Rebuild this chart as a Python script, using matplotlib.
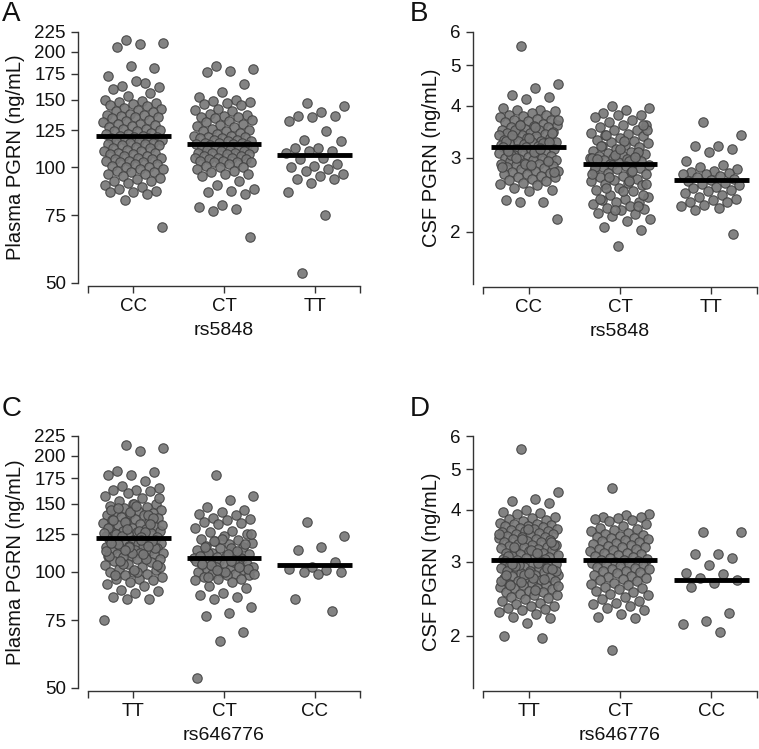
import numpy as np
import matplotlib
matplotlib.use('Agg')
import matplotlib.pyplot as plt
from matplotlib.ticker import FixedLocator, FixedFormatter, NullLocator

plt.rcParams['font.family'] = ['Liberation Sans', 'DejaVu Sans']

# ---------------- data ----------------
cats_rs5848 = ['CC', 'CT', 'TT']
cats_rs646776 = ['TT', 'CT', 'CC']

plasma_ticks = [50, 75, 100, 125, 150, 175, 200, 225]
csf_ticks = [2, 3, 4, 5, 6]

# Panel A: plasma PGRN by rs5848
A_CC = [214, 211, 209, 206, 181, 183, 173, 166, 163, 162, 168, 160, 156, 153, 150,
        149, 148, 147, 146, 145, 144, 143, 142, 141, 140, 139, 138, 137, 137, 136,
        135, 135, 134, 133, 132, 131, 130, 130, 129, 128, 127, 126, 126, 125, 124,
        124, 123, 122, 122, 121, 121, 120, 120, 119, 119, 118, 118, 117, 117, 116,
        116, 115, 115, 114, 114, 113, 112, 112, 111, 110, 110, 109, 109, 108, 108,
        107, 107, 106, 106, 105, 105, 104, 104, 103, 103, 102, 102, 101, 100, 100,
        99, 99, 98, 97, 97, 96, 96, 95, 94, 93, 92, 92, 91, 90, 89, 88, 87, 86, 86,
        85, 82, 70]
A_CT = [183, 180, 178, 177, 165, 157, 152, 150, 149, 148, 147, 146, 145, 142, 141,
        140, 138, 137, 136, 135, 135, 134, 133, 132, 131, 130, 129, 128, 127, 126,
        125, 124, 124, 123, 122, 121, 121, 120, 120, 119, 119, 118, 118, 117, 117,
        116, 116, 116, 115, 115, 114, 114, 113, 113, 112, 112, 112, 111, 111, 110,
        110, 109, 109, 109, 108, 108, 107, 107, 106, 106, 106, 105, 105, 104, 104,
        103, 103, 103, 102, 101, 100, 100, 99, 98, 97, 96, 96, 95, 92, 90, 88, 87,
        86, 85, 80, 79, 78, 77, 66]
A_TT = [147, 144, 139, 136, 136, 135, 132, 124, 118, 117, 112, 112, 110, 110, 109,
        106, 105, 102, 101, 100, 99, 98, 96, 95, 93, 93, 91, 86, 75, 53]
A_lines = [120.8, 114.7, 107.4]

# Panel B: CSF PGRN by rs5848
B_CC = [5.55, 4.5, 4.4, 4.25, 4.2, 4.15, 3.95, 3.9, 3.9, 3.88, 3.85, 3.8, 3.8, 3.78,
        3.75, 3.72, 3.7, 3.7, 3.68, 3.65, 3.62, 3.6, 3.6, 3.58, 3.55, 3.55, 3.52,
        3.5, 3.5, 3.48, 3.46, 3.45, 3.44, 3.42, 3.4, 3.4, 3.38, 3.36, 3.35, 3.34,
        3.32, 3.3, 3.3, 3.28, 3.27, 3.26, 3.25, 3.24, 3.22, 3.21,
        3.5, 3.45, 3.35, 3.3, 3.25, 3.6, 3.7, 3.55, 3.4, 3.28,
        3.19, 3.18, 3.17, 3.16, 3.15, 3.14, 3.12, 3.1, 3.1, 3.08, 3.06, 3.05, 3.04,
        3.02, 3.0, 3.0, 2.98, 2.97, 2.96, 2.95, 2.94, 2.92, 2.9, 2.9, 2.88, 2.87,
        2.86, 2.85, 2.84, 2.82, 2.8, 2.8, 2.78, 2.76, 2.75, 2.74, 2.72, 2.7, 2.7,
        2.68, 2.66, 2.65, 2.62, 2.6, 2.58, 2.55, 2.52, 2.5, 2.38, 2.36, 2.35, 2.15,
        3.1, 3.05, 2.95, 2.9, 2.85, 3.15, 3.0, 2.78, 2.88, 3.12]
B_CT = [4.0, 3.95, 3.9, 3.85, 3.8, 3.8, 3.75, 3.7, 3.65, 3.6, 3.6, 3.55, 3.5, 3.5,
        3.45, 3.42, 3.4, 3.38, 3.35, 3.32, 3.3, 3.28, 3.25, 3.22, 3.2, 3.18, 3.15,
        3.12, 3.1, 3.08, 3.06, 3.05, 3.03, 3.02, 3.0, 3.0, 2.98, 2.96, 2.95, 2.94,
        2.93, 2.92, 2.91,
        3.5, 3.3, 3.2, 3.1, 3.05, 3.0, 2.95, 3.4, 3.6, 3.15, 2.98, 3.02,
        2.89, 2.88, 2.87, 2.85, 2.84, 2.82, 2.8, 2.78, 2.76, 2.75, 2.72, 2.7, 2.68,
        2.66, 2.65, 2.62, 2.6, 2.58, 2.55, 2.52, 2.5, 2.45, 2.42, 2.4, 2.38, 2.36,
        2.35, 2.33, 2.3, 2.28, 2.26, 2.25, 2.22, 2.2, 2.18, 2.15, 2.12, 2.05, 2.02,
        1.85,
        2.85, 2.8, 2.7, 2.6, 2.5, 2.4, 2.3, 2.25, 2.75, 2.65, 2.55, 2.45]
B_TT = [3.65, 3.4, 3.2, 3.2, 3.15, 3.1, 2.95, 2.88, 2.85, 2.82, 2.8, 2.78, 2.76,
        2.75, 2.74, 2.72, 2.7, 2.68, 2.66, 2.64, 2.62, 2.6, 2.58, 2.56, 2.55, 2.52,
        2.5, 2.48, 2.45, 2.42, 2.4, 2.38, 2.36, 2.35, 2.32, 2.3, 2.28, 2.25, 1.98]
B_lines = [3.19, 2.90, 2.66]

# Panel C: plasma PGRN by rs646776
C_TT = [213, 210, 206, 183, 182, 178, 178, 172, 167, 165, 163, 163, 162, 160, 157,
        155, 153, 150, 150, 148, 147, 146, 145, 144, 143, 142, 141, 140, 140, 139,
        138, 137, 136, 135, 135, 134, 133, 132, 131, 130, 130, 129, 128, 128, 127,
        126, 126, 125, 124, 124, 123, 123,
        150, 145, 140, 135, 132, 128, 125, 138, 143, 130, 127, 124, 155, 148, 136,
        133, 129, 126, 123, 146,
        121, 121, 120, 120, 119, 119, 118, 118, 117, 117, 116, 116, 115, 115, 114,
        114, 113, 113, 112, 112, 111, 111, 110, 110, 109, 109, 108, 108, 107, 106,
        105, 104, 103, 102, 101, 100, 100, 99, 98, 97, 96, 96, 95, 94, 93, 92, 90,
        89, 88, 86, 85, 85, 75,
        121, 118, 115, 112, 110, 108, 105, 103, 100, 98, 120, 116, 113, 111, 107,
        104, 101, 119, 117, 114]
C_CT = [178, 157, 154, 147, 145, 143, 141, 140, 138, 137, 136, 135, 134, 133, 130,
        128, 127, 125, 124, 122, 121, 120, 119, 118, 117, 116, 115, 114, 113, 112,
        111, 110, 110, 109, 109, 108.5,
        115, 112, 118, 122, 110, 113, 120, 125, 111, 116,
        108, 107, 107, 106, 106, 105, 105, 104, 104, 103, 103, 102, 102, 101, 100,
        100, 99, 99, 98, 98, 97, 96, 96, 95, 94, 92, 91, 88, 87, 86, 85, 81, 78,
        77, 70, 66, 53,
        106, 104, 102, 100, 105, 103, 101, 99, 107, 97]
C_CC = [135, 124, 116, 114, 106, 103, 102, 101, 100, 100, 99, 85, 79]
C_lines = [122.6, 108.4, 104.2]

# Panel D: CSF PGRN by rs646776
D_TT = [5.6, 4.4, 4.25, 4.2, 4.15, 4.0, 3.95, 3.92, 3.9, 3.85, 3.82, 3.8, 3.78,
        3.75, 3.72, 3.7, 3.7, 3.68, 3.66, 3.65, 3.63, 3.62, 3.6, 3.6, 3.58, 3.56,
        3.55, 3.54, 3.52, 3.5, 3.5, 3.48, 3.46, 3.45, 3.44, 3.42, 3.4, 3.4, 3.38,
        3.36, 3.35, 3.34, 3.32, 3.3, 3.3, 3.28, 3.26, 3.25, 3.24, 3.22, 3.2, 3.2,
        3.18, 3.16, 3.15, 3.14, 3.12, 3.1, 3.1, 3.08, 3.06, 3.05, 3.04, 3.03,
        3.3, 3.2, 3.1, 3.05, 3.4, 3.5, 3.15, 3.25, 3.35, 3.6,
        3.01, 3.0, 2.98, 2.97, 2.96, 2.95, 2.94, 2.92, 2.9, 2.9, 2.88, 2.87, 2.86,
        2.85, 2.84, 2.82, 2.8, 2.8, 2.78, 2.76, 2.75, 2.74, 2.72, 2.7, 2.7, 2.68,
        2.66, 2.65, 2.64, 2.62, 2.6, 2.6, 2.58, 2.56, 2.55, 2.54, 2.52, 2.5, 2.5,
        2.48, 2.46, 2.45, 2.42, 2.4, 2.38, 2.36, 2.35, 2.33, 2.32, 2.3, 2.28, 2.25,
        2.22, 2.2, 2.15, 2.0, 1.98,
        2.95, 2.85, 2.75, 2.65, 2.9, 2.8, 2.7,
        2.99, 2.93, 2.89, 2.83, 2.79, 2.73, 2.69, 2.63, 2.57, 2.96]
D_CT = [4.5, 3.9, 3.88, 3.85, 3.85, 3.82, 3.8, 3.78, 3.75, 3.7, 3.65, 3.62, 3.6,
        3.58, 3.55, 3.52, 3.5, 3.48, 3.46, 3.45, 3.43, 3.42, 3.4, 3.38, 3.36, 3.35,
        3.33, 3.32, 3.3, 3.28, 3.26, 3.25, 3.23, 3.22, 3.2, 3.18, 3.16, 3.15, 3.13,
        3.12, 3.1, 3.08, 3.06, 3.05, 3.04, 3.03,
        3.01, 3.0, 2.99, 2.97, 2.96, 2.95, 2.93, 2.92, 2.9, 2.89, 2.88, 2.86, 2.85,
        2.84, 2.82, 2.8, 2.78, 2.76, 2.75, 2.73, 2.72, 2.7, 2.68, 2.66, 2.65, 2.62,
        2.6, 2.58, 2.56, 2.55, 2.52, 2.5, 2.48, 2.45, 2.42, 2.4, 2.38, 2.36, 2.33,
        2.3, 2.25, 2.22, 2.2, 1.85]
D_CC = [3.54, 3.53, 3.14, 3.13, 3.06, 2.95, 2.82, 2.81, 2.75, 2.72, 2.68, 2.62,
        2.26, 2.17, 2.13, 2.04]
D_lines = [3.03, 3.03, 2.72]

# ---------------- drawing ----------------
W, H = 759, 749
fig = plt.figure(figsize=(W / 100, H / 100), dpi=100)

POINT_FC = '#787878'
POINT_EC = '#424242'
AXIS_C = '#333333'
TEXT_C = '#111111'


def jitter(n, width=0.33):
    i = np.arange(n)
    return ((i * 0.6180339887 + 0.37) % 1.0 - 0.5) * 2 * width


def px_rect(left, top, right, bottom):
    return [left / W, 1 - bottom / H, (right - left) / W, (bottom - top) / H]


def panel(rect, groups, lines, cats, ylim, yticks, ylabel, xlabel, letter, letter_xy):
    ax = fig.add_axes(rect)
    ax.set_yscale('log')
    for k, vals in enumerate(groups):
        vals = np.asarray(vals, dtype=float)
        x = k + jitter(len(vals))
        ax.scatter(x, vals, s=46, c=POINT_FC, edgecolors=POINT_EC, linewidths=0.8,
                   alpha=0.92, zorder=2, clip_on=False)
        ax.hlines(lines[k], k - 0.41, k + 0.41, colors='black', linewidth=3.5, zorder=3)
    ax.set_ylim(*ylim)
    ax.yaxis.set_major_locator(FixedLocator(yticks))
    ax.yaxis.set_major_formatter(FixedFormatter([str(t) for t in yticks]))
    ax.yaxis.set_minor_locator(NullLocator())
    ax.set_xlim(-0.5, 2.5)
    ax.set_xticks([-0.5, 0, 1, 2, 2.5])
    ax.set_xticklabels([''] + list(cats) + [''])
    for s in ['top', 'right']:
        ax.spines[s].set_visible(False)
    ax.spines['left'].set_position(('outward', 7))
    ax.spines['bottom'].set_position(('outward', 2))
    for s in ['left', 'bottom']:
        ax.spines[s].set_color(AXIS_C)
        ax.spines[s].set_linewidth(1.0)
    ax.tick_params(direction='out', length=5, width=1.0, color=AXIS_C,
                   labelsize=13.5, labelcolor=TEXT_C, pad=4)
    ax.set_ylabel(ylabel, fontsize=14.5, color=TEXT_C, labelpad=7)
    ax.set_xlabel(xlabel, fontsize=14, color=TEXT_C, labelpad=5)
    fig.text(letter_xy[0] / W, 1 - letter_xy[1] / H, letter, fontsize=20,
             va='top', ha='left', color=TEXT_C)
    return ax


panel(px_rect(88, 32, 360, 283), [A_CC, A_CT, A_TT], A_lines, cats_rs5848,
      (50, 225), plasma_ticks, 'Plasma PGRN (ng/mL)', 'rs5848', 'A', (2, 1))
panel(px_rect(483, 32, 757, 284), [B_CC, B_CT, B_TT], B_lines, cats_rs5848,
      (1.5, 6), csf_ticks, 'CSF PGRN (ng/mL)', 'rs5848', 'B', (410, 1))
panel(px_rect(88, 436, 360, 688), [C_TT, C_CT, C_CC], C_lines, cats_rs646776,
      (50, 225), plasma_ticks, 'Plasma PGRN (ng/mL)', 'rs646776', 'C', (2, 396))
panel(px_rect(483, 436, 757, 688), [D_TT, D_CT, D_CC], D_lines, cats_rs646776,
      (1.5, 6), csf_ticks, 'CSF PGRN (ng/mL)', 'rs646776', 'D', (410, 396))

fig.savefig('out.png', dpi=100, facecolor='white')
